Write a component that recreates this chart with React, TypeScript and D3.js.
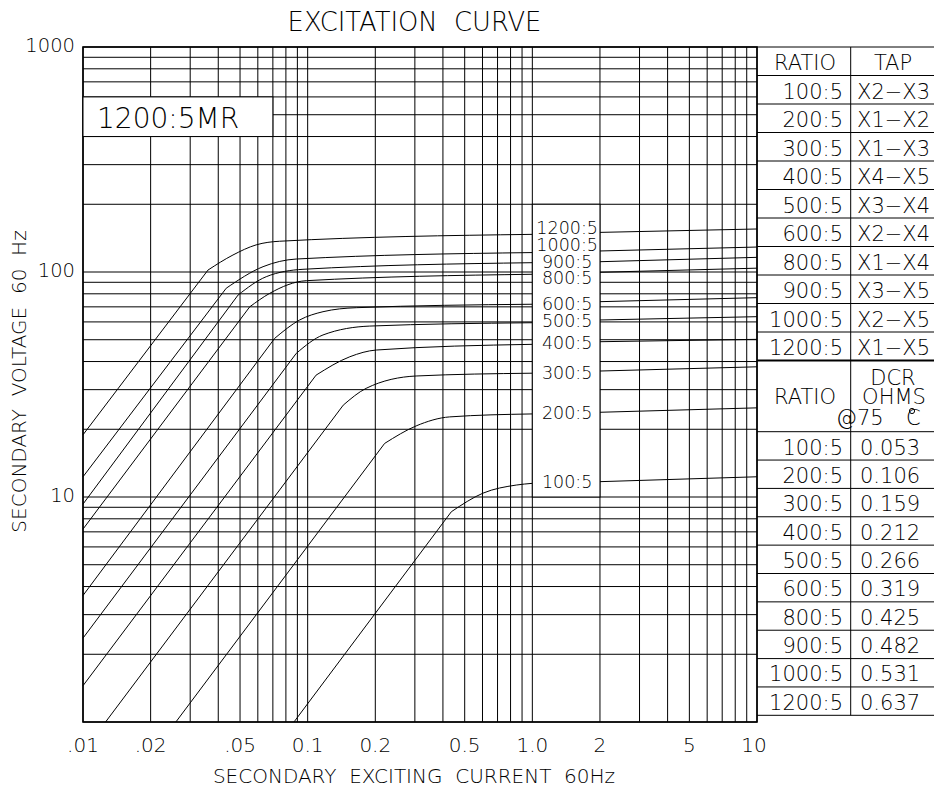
import React from "react";
import * as d3 from "d3";

// ---------- data ----------
const ratios = ["100:5", "200:5", "300:5", "400:5", "500:5", "600:5", "800:5", "900:5", "1000:5", "1200:5"];
const taps = ["X2−X3", "X1−X2", "X1−X3", "X4−X5", "X3−X4", "X2−X4", "X1−X4", "X3−X5", "X2−X5", "X1−X5"];
const dcrOhms = ["0.053", "0.106", "0.159", "0.212", "0.266", "0.319", "0.425", "0.482", "0.531", "0.637"];

const xTickValues = [0.01, 0.02, 0.05, 0.1, 0.2, 0.5, 1, 2, 5, 10];
const xTickLabels = [".01", ".02", ".05", "0.1", "0.2", "0.5", "1.0", "2", "5", "10"];
const yTickValues = [1000, 100, 10];
const yTickLabels = ["1000", "100", "10"];

// curves: [current A, voltage V]; first point -> knee straight, then saturation bend up to I = 1.0
const curve100 = [[0.0869, 1.0], [0.436, 8.6], [0.603, 10.4], [0.848, 11.3], [1, 11.5]];
const curve200 = [[0.0259, 1.0], [0.22, 17.3], [0.304, 20.7], [0.4285, 22.7], [1, 23.4]];
const curve300 = [[0.0126, 1.0], [0.144, 25.6], [0.182, 30.4], [0.304, 34.5], [1, 35.5]];
const curve400 = [[0.01, 1.45], [0.109, 34.8], [0.154, 42.0], [0.202, 45.0], [1, 47.7]];
const curve500 = [[0.01, 2.36], [0.089, 43.5], [0.117, 52.5], [0.189, 57.5], [1, 59.5]];
const curve600 = [[0.01, 3.65], [0.0713, 50.7], [0.0921, 61.2], [0.117, 66.6], [0.1646, 69.4], [1, 71.9]];
const curve800 = [[0.01, 7.2], [0.0552, 70], [0.0678, 80.4], [0.0986, 91.5], [1, 97.7]];
const curve900 = [[0.01, 9.3], [0.049, 79], [0.0654, 95.3], [0.0953, 102.8], [1, 110]];
const curve1000 = [[0.01, 12.3], [0.0434, 84.7], [0.0633, 105.6], [0.089, 114.2], [1, 122]];
const curve1200 = [[0.01, 18.9], [0.036, 102], [0.0465, 119], [0.059, 132], [0.075, 137], [1, 147]];
const curves = [curve100, curve200, curve300, curve400, curve500, curve600, curve800, curve900, curve1000, curve1200];

// continuation lines from the label column (I = 2) to I = 10
const leadAt2 = [11.7, 23.8, 36.3, 49.0, 61.2, 73.8, 99.7, 111.1, 124, 150];
const leadAt10 = [12.3, 24.9, 37.9, 50.2, 63.3, 76.9, 104, 116.2, 129.1, 155.3];
// label centre heights (volts) inside the label column
const labelVolts = [11.7, 23.7, 35.8, 48.6, 60.9, 72.1, 94.5, 111.1, 132.5, 156.9];

// ---------- layout ----------
const W = 934;
const H = 792;
const L = 83, R = 757, T = 47, B = 722;
const FONT = "'DejaVu Sans', sans-serif";
const FW = 200;

export default function App() {
  const x = d3.scaleLog().domain([0.01, 10]).range([L, R]);
  const y = d3.scaleLog().domain([1, 1000]).range([B, T]);

  const xGrid: number[] = [];
  [0.01, 0.1, 1].forEach((d) => { for (let m = 1; m <= 9; m++) xGrid.push(d * m); });
  xGrid.push(10);
  const yGrid: number[] = [];
  [1, 10, 100].forEach((d) => { for (let m = 1; m <= 9; m++) yGrid.push(d * m); });
  yGrid.push(1000);

  const straight = d3.line<number[]>().x((p) => x(p[0])).y((p) => y(p[1]));
  const bend = d3.line<number[]>().x((p) => x(p[0])).y((p) => y(p[1])).curve(d3.curveMonotoneX);

  // table geometry
  const tL = R, tR = 934, tMid = 850.7;
  const rowH = 28.5;
  const tapRows = d3.range(12).map((i) => T + i * rowH);
  const dcrHeadBottom = 431.7;
  const rowH2 = 28.36;
  const dcrRows = d3.range(11).map((i) => dcrHeadBottom + i * rowH2);

  const txt = { fontFamily: FONT, fontWeight: FW, fill: "#000" } as const;

  return (
    <svg width={W} height={H} style={{ position: "absolute", left: 0, top: 0, display: "block", background: "#fff" }}>
      <rect x={0} y={0} width={W} height={H} fill="#fff" />
      {/* grid */}
      <g stroke="#000" strokeWidth={1}>
        {xGrid.map((v, i) => (
          <line key={"gx" + i} x1={x(v)} x2={x(v)} y1={T} y2={B} />
        ))}
        {yGrid.map((v, i) => (
          <line key={"gy" + i} x1={L} x2={R} y1={y(v)} y2={y(v)} />
        ))}
      </g>
      <rect x={L} y={T} width={R - L} height={B - T} fill="none" stroke="#000" strokeWidth={1.6} />

      {/* curves */}
      <g fill="none" stroke="#000" strokeWidth={1}>
        {curves.map((c, i) => (
          <g key={"c" + i}>
            <path d={straight(c.slice(0, 2)) || ""} />
            <path d={bend(c.slice(1)) || ""} />
            <path d={straight([[2, leadAt2[i]], [10, leadAt10[i]]]) || ""} />
          </g>
        ))}
      </g>

      {/* label column */}
      <rect x={x(1)} y={y(200)} width={x(2) - x(1)} height={y(10) - y(200)} fill="#fff" stroke="#000" strokeWidth={1} />
      {ratios.map((r, i) => (
        <text key={"lab" + i} x={(x(1) + x(2)) / 2 + 1} y={y(labelVolts[i])} dy="0.36em" textAnchor="middle" fontSize={17.5} {...txt}>
          {r}
        </text>
      ))}

      {/* title box */}
      <rect x={x(0.01)} y={y(600)} width={x(0.07) - x(0.01)} height={y(400) - y(600)} fill="#fff" stroke="#000" strokeWidth={1} />
      <text x={97} y={128} fontSize={28} {...txt}>1200:5MR</text>

      {/* axes labels */}
      {xTickValues.map((v, i) => (
        <text key={"xt" + i} x={x(v) - (v === 10 ? 3 : 0)} y={752} textAnchor="middle" fontSize={20} {...txt}>
          {xTickLabels[i]}
        </text>
      ))}
      {yTickValues.map((v, i) => (
        <text key={"yt" + i} x={75} y={y(v) + 5} textAnchor="end" fontSize={19.5} {...txt}>
          {yTickLabels[i]}
        </text>
      ))}
      <text x={414} y={783} textAnchor="middle" fontSize={20} xmlSpace="preserve" style={{ whiteSpace: "pre" }} {...txt}>
        {"SECONDARY  EXCITING  CURRENT  60Hz"}
      </text>
      <text transform={`translate(26,${381.5}) rotate(-90)`} textAnchor="middle" fontSize={20} xmlSpace="preserve" style={{ whiteSpace: "pre" }} {...txt}>
        {"SECONDARY  VOLTAGE  60  Hz"}
      </text>
      <text x={414.5} y={30.5} textAnchor="middle" fontSize={25.8} xmlSpace="preserve" style={{ whiteSpace: "pre" }} {...txt}>
        {"EXCITATION  CURVE"}
      </text>

      {/* table */}
      <g stroke="#000" strokeWidth={1}>
        {tapRows.map((ry, i) => (
          <line key={"tr" + i} x1={tL} x2={tR} y1={ry} y2={ry} strokeWidth={i === 11 ? 1.8 : 1} />
        ))}
        {dcrRows.map((ry, i) => (
          <line key={"dr" + i} x1={tL} x2={tR} y1={ry} y2={ry} />
        ))}
        <line x1={tMid} x2={tMid} y1={T} y2={dcrRows[10]} />
      </g>
      <text x={805} y={70} textAnchor="middle" fontSize={21} {...txt}>RATIO</text>
      <text x={893} y={70} textAnchor="middle" fontSize={21} {...txt}>TAP</text>
      {ratios.map((r, i) => (
        <g key={"tap" + i}>
          <text x={843} y={tapRows[i + 1] + rowH - 5.5} textAnchor="end" fontSize={21} {...txt}>{r}</text>
          <text x={857} y={tapRows[i + 1] + rowH - 5.5} fontSize={21} {...txt}>{taps[i]}</text>
        </g>
      ))}
      <text x={805} y={404} textAnchor="middle" fontSize={21} {...txt}>RATIO</text>
      <text x={893} y={385} textAnchor="middle" fontSize={21} {...txt}>DCR</text>
      <text x={894} y={404} textAnchor="middle" fontSize={21} {...txt}>OHMS</text>
      <text x={836} y={425} fontSize={21} {...txt}>@75</text>
      <text x={906} y={425} fontSize={21} {...txt}>C</text>
      <circle cx={912} cy={411} r={2.6} fill="none" stroke="#000" strokeWidth={1} />
      {ratios.map((r, i) => (
        <g key={"dcr" + i}>
          <text x={843} y={dcrRows[i] + rowH2 - 5.5} textAnchor="end" fontSize={21} {...txt}>{r}</text>
          <text x={860} y={dcrRows[i] + rowH2 - 5.5} fontSize={21} {...txt}>{dcrOhms[i]}</text>
        </g>
      ))}
    </svg>
  );
}
